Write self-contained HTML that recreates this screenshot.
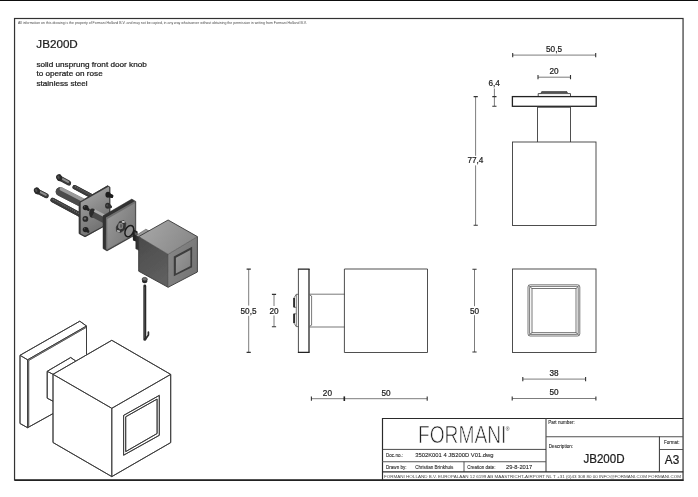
<!DOCTYPE html>
<html lang="en">
<head>
<meta charset="utf-8">
<title>JB200D - Formani</title>
<style>
  html, body { margin: 0; padding: 0; background: #fff; }
  body { width: 698px; height: 497px; overflow: hidden; position: relative; }
  svg { position: absolute; left: 0; top: 0; display: block; }
  text { font-family: "Liberation Sans", sans-serif; fill: #1a1a1a; }
  .ln { fill: none; stroke: #3a3a3a; stroke-width: 0.9; }
  .thin { fill: none; stroke: #555; stroke-width: 0.8; }
  .thk { fill: none; stroke: #222; stroke-width: 1.3; }
  .dim { fill: none; stroke: #5a5a5a; stroke-width: 0.8; }
  .tk { fill: none; stroke: #333; stroke-width: 1.1; }
  .dt { font-size: 8.2px; text-anchor: middle; fill: #222; }
  .tx text, text.dt { stroke: #222; stroke-width: 0.22px; }
  .tiny { font-size: 4.5px; fill: #2a2a2a; }
  .tx2 text { stroke: #333; stroke-width: 0.1px; }
</style>
</head>
<body>
<svg width="698" height="497" viewBox="0 0 698 497">
  <defs>
    <filter id="soft2" x="0" y="0" width="698" height="497" filterUnits="userSpaceOnUse"><feGaussianBlur stdDeviation="0.3"/></filter>
  </defs>
  <rect x="0" y="0" width="698" height="497" fill="#fff"/>
  <g id="all" filter="url(#soft2)">
  <!-- top bar -->
  <rect x="0" y="0" width="698" height="1" fill="#111"/>

  <!-- outer frame -->
  <g id="frame">
    <rect x="14.55" y="18.5" width="668.5" height="461.5" fill="none" stroke="#333" stroke-width="1.2"/>
    <line x1="14.6" y1="480.15" x2="683.6" y2="480.15" stroke="#222" stroke-width="1.5"/>
  </g>

  <!-- header text -->
  <g id="header" class="tx">
    <text x="18" y="24.4" font-size="3.45" style="stroke:none;fill:#4a4a4a" textLength="288.7" lengthAdjust="spacingAndGlyphs">All information on this drawing is the property of Formani Holland B.V. and may not be copied, in any way whatsoever without obtaining the permission in writing from Formani Holland B.V.</text>
    <text x="36.3" y="48" font-size="11.7px" textLength="41.5" lengthAdjust="spacingAndGlyphs">JB200D</text>
    <text x="36.4" y="67.4" font-size="7.4px" textLength="110.4" lengthAdjust="spacingAndGlyphs">solid unsprung front door knob</text>
    <text x="36.4" y="76.4" font-size="7.4px" textLength="66.3" lengthAdjust="spacingAndGlyphs">to operate on rose</text>
    <text x="36.4" y="85.6" font-size="7.4px" textLength="51.3" lengthAdjust="spacingAndGlyphs">stainless steel</text>
  </g>

  <!-- TOP VIEW (upper right) -->
  <g id="topview">
    <!-- dims -->
    <path class="dim" d="M512.7 55.1H595.7"/><path class="tk" d="M512.7 52.9v4.4M595.7 52.9v4.4"/>
    <text class="dt" x="554" y="51.9">50,5</text>
    <path class="dim" d="M538 77.2H570.5"/><path class="tk" d="M538 75.1v4.2M570.5 75.1v4.2"/>
    <text class="dt" x="554" y="74.3">20</text>
    <path class="dim" d="M494.4 88.5V106"/><path class="tk" d="M492.3 96.6h4.2M492.3 106.2h4.2"/>
    <text class="dt" x="494.2" y="85.9">6,4</text>
    <path class="dim" d="M475.6 96.5V155.8M475.6 165.4V225.2"/><path class="tk" d="M473.6 96.6h4.2M473.6 225.3h4.2"/>
    <text class="dt" x="475.4" y="162.9">77,4</text>
    <!-- bump -->
    <path class="ln" d="M538.2 96.3V93.6H541L541.6 91.8H567L567.6 93.6H570.5V96.3M541 93.6H567.6" stroke="#444"/>
    <path d="M541.6 92.2H567" stroke="#333" stroke-width="1.2" fill="none"/>
    <!-- rose -->
    <rect class="thk" x="512.4" y="96.6" width="83.8" height="9.7"/>
    <!-- neck -->
    <path class="ln" d="M537.5 106.2V142M570.5 106.2V142"/>
    <path class="thin" d="M537.5 107.5H570.5" stroke="#555" stroke-width="0.9"/>
    <!-- cube -->
    <rect class="ln" x="512.5" y="142" width="83.5" height="83.5"/>
  </g>

  <!-- SIDE VIEW (middle) -->
  <g id="sideview">
    <path class="dim" d="M248.7 269V305.6M248.7 315.8V352.4"/><path class="tk" d="M246.6 269.1h4.2M246.6 352.4h4.2"/>
    <text class="dt" x="248.5" y="313.6">50,5</text>
    <path class="dim" d="M274 294.4V306M274 315.4V326.7"/><path class="tk" d="M271.9 294.4h4.2M271.9 326.7h4.2"/>
    <text class="dt" x="274" y="313.6">20</text>
    <!-- bolts / back plate -->
    <path class="thin" d="M298.4 294.3H296.3L293.9 298V307.3H296.3M296.3 313.8H293.9V323L296.3 326.6H298.4M296.3 294.3V326.6" stroke="#555"/>
    <path d="M294.1 298V307.3M294.1 313.8V323" stroke="#1a1a1a" stroke-width="1.6" fill="none"/>
    <!-- rose -->
    <path class="ln" d="M298.4 269V352.4"/>
    <path class="thk" d="M309 269V352.4" stroke-width="1.5" stroke="#1a1a1a"/>
    <path class="thk" d="M297.9 269.1H309.6M297.9 352.3H309.6" stroke-width="1.4"/>
    <!-- neck -->
    <path class="thin" d="M309.4 294.2H344.5M309.4 327H344.5" stroke="#444" stroke-width="1.1"/>
    <path class="thin" d="M309.6 295L311.6 296V325.2L309.6 326.2" stroke="#777" stroke-width="0.9"/>
    <!-- cube -->
    <path class="ln" d="M344.4 269H427.5V352.5H344.4Z"/>
    <!-- bottom dims -->
    <path class="dim" d="M311.4 398.7H427.2"/><path class="tk" d="M311.4 396.6v4.2M427.2 396.6v4.2"/>
    <path d="M344.3 396.4v4.6" stroke="#222" stroke-width="1.6" fill="none"/>
    <text class="dt" x="327.4" y="395.8">20</text>
    <text class="dt" x="386" y="395.8">50</text>
  </g>

  <!-- FRONT VIEW (right) -->
  <g id="frontview">
    <rect class="ln" x="512.5" y="269" width="83.5" height="83.5" stroke="#444"/>
    <rect class="thin" x="528" y="284.8" width="51.8" height="51.2" rx="2.2" ry="2.2" stroke="#555" stroke-width="1"/>
    <rect class="thin" x="532" y="288.5" width="44" height="44.2" stroke="#555" stroke-width="0.9"/>
    <rect class="thin" x="529.6" y="286.4" width="48.6" height="48" rx="1.4" stroke="#c4c4c4" stroke-width="0.5"/>
    <path class="thin" d="M528.6 285.4L532 288.5M579.2 285.4L576 288.5M528.6 335.4L532 332.7M579.2 335.4L576 332.7" stroke="#666" stroke-width="0.7"/>
    <path class="dim" d="M474.5 269.3V306.2M474.5 315.2V352"/><path class="tk" d="M472.4 269.3h4.2M472.4 352h4.2"/>
    <text class="dt" x="474.6" y="313.7">50</text>
    <path class="dim" d="M522.8 379.1H585.6"/><path class="tk" d="M522.8 377v4.2M585.6 377v4.2"/>
    <text class="dt" x="554" y="375.6">38</text>
    <path class="dim" d="M512.2 398.5H595.9"/><path class="tk" d="M512.2 396.4v4.2M595.9 396.4v4.2"/>
    <text class="dt" x="554" y="395.4">50</text>
  </g>

  <!-- TITLE BLOCK -->
  <g id="titleblock">
    <path d="M382.5 479.7V418.5H683.2" fill="none" stroke="#2a2a2a" stroke-width="1.15"/>
    <path d="M546 418.6V471.9" fill="none" stroke="#444" stroke-width="1.1"/>
    <path d="M546 436.8H683" fill="none" stroke="#505050" stroke-width="1.1"/>
    <path d="M659.4 436.5V471.9" fill="none" stroke="#333" stroke-width="1"/>
    <path d="M659.4 449.5H683" fill="none" stroke="#444" stroke-width="0.9"/>
    <path d="M382 449.4H546" fill="none" stroke="#333" stroke-width="0.9"/>
    <path d="M382 461.7H546" fill="none" stroke="#555" stroke-width="1.1"/>
    <path d="M464 461.7V471.9" fill="none" stroke="#444" stroke-width="0.9"/>
    <path d="M382 471.9H683.2" fill="none" stroke="#2a2a2a" stroke-width="1.2"/>

    <text x="418" y="443.3" font-size="23.2px" textLength="88.4" lengthAdjust="spacingAndGlyphs" style="fill:#222;stroke:#fff;stroke-width:0.7px;">FORMANI</text>
    <text x="505.8" y="430.6" font-size="5px" style="fill:#333">®</text>

    <g class="tx2">
    <text class="tiny" x="386" y="456.6" textLength="17" lengthAdjust="spacingAndGlyphs">Doc.no.:</text>
    <text x="415.2" y="456.7" font-size="5.7px" textLength="78.4" lengthAdjust="spacingAndGlyphs">3502K001 4 JB200D V01.dwg</text>
    <text class="tiny" x="386" y="468.5" textLength="20.6" lengthAdjust="spacingAndGlyphs">Drawn by:</text>
    <text class="tiny" x="415.2" y="468.5" textLength="38.2" lengthAdjust="spacingAndGlyphs">Christian Brinkhuis</text>
    <text class="tiny" x="467.2" y="468.5" textLength="28.3" lengthAdjust="spacingAndGlyphs">Creation date:</text>
    <text x="506" y="468.7" font-size="5.8px" textLength="26.2" lengthAdjust="spacingAndGlyphs">29-8-2017</text>
    <text x="384" y="477.6" font-size="4.4px" style="fill:#444;stroke:none" textLength="297" lengthAdjust="spacingAndGlyphs">FORMANI HOLLAND B.V.  EUROPALAAN 12  6199 AB MAASTRICHT-AIRPORT NL  T +31 (0)43 308 80 00 INFO@FORMANI.COM FORMANI.COM</text>

    <text class="tiny" x="548.2" y="424" textLength="26.6" lengthAdjust="spacingAndGlyphs">Part number:</text>
    <text class="tiny" x="548.8" y="447.5" textLength="24.3" lengthAdjust="spacingAndGlyphs">Description:</text>
    <text class="tiny" x="664" y="444.4" textLength="15.6" lengthAdjust="spacingAndGlyphs">Format:</text>
    </g>
    <g class="tx">
    <text x="583.4" y="463.2" font-size="12.2px" textLength="41.2" lengthAdjust="spacingAndGlyphs">JB200D</text>
    <text x="664.8" y="463.6" font-size="12px" textLength="14.4" lengthAdjust="spacingAndGlyphs">A3</text>
    </g>
  </g>

  <!-- ISO LINE DRAWING -->
  <g id="isoline">
    <!-- rose plate -->
    <path class="ln" d="M20 355.3L79.8 321.2L86.5 326L27.6 359.8ZM20 355.3V423.5L27.6 427.7V359.8M27.6 427.7L53 413.6M86.5 326V354.6"/>
    <path class="thin" d="M28.6 360.5L86.3 327.3M28.7 360.6V427" stroke="#666" stroke-width="0.7"/>
    <!-- neck -->
    <path class="ln" d="M47.2 371.3L70.7 357.5L75.6 360.9M47.2 371.3L53 374.3M47.2 371.3V398.2L53 401.2"/>
    <!-- cube -->
    <path class="ln" d="M111.8 340.3L170.7 374.4L111.8 408.3L53 374.3ZM53 374.3V442.5L111.8 476.6L170.7 442.6V374.4M111.8 408.3V476.6"/>
    <!-- inset -->
    <path class="ln" d="M123.6 415.4L159.3 395.4V435.3L123.6 455.2Z" stroke-width="0.8"/>
    <path class="ln" d="M125.7 416.8L157.1 399.1V433.5L125.7 451.6Z" stroke-width="0.8"/>
  </g>

  <!-- EXPLODED SHADED VIEW -->
  <defs>
    <filter id="soft" x="-5%" y="-5%" width="110%" height="110%"><feGaussianBlur stdDeviation="0.35"/></filter>
    <linearGradient id="gTop" x1="0" y1="0.3" x2="1" y2="0.7"><stop offset="0" stop-color="#a6a6a6"/><stop offset="1" stop-color="#868686"/></linearGradient>
    <linearGradient id="gLeft" x1="0" y1="0" x2="0.4" y2="1"><stop offset="0" stop-color="#4a4a4a"/><stop offset="1" stop-color="#5e5e5e"/></linearGradient>
    <linearGradient id="gRight" x1="0" y1="0" x2="1" y2="0.6"><stop offset="0" stop-color="#888"/><stop offset="1" stop-color="#757575"/></linearGradient>
    <linearGradient id="gPlate" x1="0" y1="0" x2="1" y2="0.8"><stop offset="0" stop-color="#9c9c9c"/><stop offset="1" stop-color="#767676"/></linearGradient>
    <linearGradient id="gPlate2" x1="0.2" y1="0" x2="0.6" y2="1"><stop offset="0" stop-color="#a8a8a8"/><stop offset="0.45" stop-color="#8c8c8c"/><stop offset="1" stop-color="#6c6c6c"/></linearGradient>
    <linearGradient id="gInset" x1="0" y1="0" x2="1" y2="1"><stop offset="0" stop-color="#9a9a9a"/><stop offset="1" stop-color="#808080"/></linearGradient>
    <linearGradient id="gRod" x1="0" y1="0" x2="0" y2="1"><stop offset="0" stop-color="#b0b0b0"/><stop offset="1" stop-color="#555"/></linearGradient>
  </defs>
  <g id="exploded" filter="url(#soft)">
    <!-- screws -->
    <g id="screw1">
      <path d="M60.4 178.7L68.8 183.3" stroke="#333" stroke-width="4.7" stroke-linecap="round" fill="none"/>
      <path d="M62.4 179.5L67.6 182.3" stroke="#7e7e7e" stroke-width="2.1" stroke-linecap="butt" fill="none"/>
      <ellipse cx="59.4" cy="178.1" rx="2.6" ry="3.3" transform="rotate(-28 59.4 178.1)" fill="#262626"/>
      <ellipse cx="58.8" cy="177.6" rx="1" ry="1.6" transform="rotate(-28 58.8 177.6)" fill="#4c4c4c"/>
    </g>
    <g id="screw2">
      <path d="M38.1 191.6L46.4 195.9" stroke="#333" stroke-width="4.7" stroke-linecap="round" fill="none"/>
      <path d="M40.1 192.4L45.2 195" stroke="#7e7e7e" stroke-width="2.1" stroke-linecap="butt" fill="none"/>
      <ellipse cx="37.1" cy="191" rx="2.6" ry="3.3" transform="rotate(-28 37.1 191)" fill="#262626"/>
      <ellipse cx="36.5" cy="190.5" rx="1" ry="1.6" transform="rotate(-28 36.5 190.5)" fill="#4c4c4c"/>
    </g>
    <!-- threaded rods -->
    <path d="M74.6 187.2L92 196.4" stroke="#3a3a3a" stroke-width="4.3" stroke-linecap="round" fill="none"/>
    <path d="M74.8 186.6L92 195.6" stroke="#707070" stroke-width="1.2" stroke-dasharray="1.1 1.1" fill="none"/>
    <path d="M52.6 200L80 214.8" stroke="#3a3a3a" stroke-width="4.5" stroke-linecap="round" fill="none"/>
    <path d="M52.8 199.4L80 214" stroke="#707070" stroke-width="1.2" stroke-dasharray="1.1 1.1" fill="none"/>
    <!-- spindle -->
    <path d="M60 191.6L82.5 203.2" stroke="#4c4c4c" stroke-width="8.6" stroke-linecap="round" fill="none"/>
    <path d="M61.4 189L83.6 200.4" stroke="#9a9a9a" stroke-width="3.6" stroke-linecap="round" fill="none"/>
    <!-- mounting plate -->
    <path d="M79.2 203L80 201.8L107.6 185.8L109.9 187.2V223L85 236.8L79.2 233.6Z" fill="#383838" stroke="#383838" stroke-width="0.6" stroke-linejoin="round"/>
    <path d="M80.7 202.6L108.4 186.7L109.2 187.3V222.8L85 235.8L80.7 233.4Z" fill="url(#gPlate2)"/>
    <!-- plate bolts -->
    <ellipse cx="85.6" cy="207.6" rx="2.9" ry="2.7" fill="#222"/><path d="M85 207.4L88.4 209.6" stroke="#222" stroke-width="2.8" stroke-linecap="round"/><circle cx="84.6" cy="206.8" r="0.8" fill="#505050"/>
    <ellipse cx="85.4" cy="218.9" rx="2.9" ry="2.9" fill="#2a2a2a"/><circle cx="85" cy="218.6" r="1.2" fill="#6a6a6a"/>
    <ellipse cx="85.6" cy="229.6" rx="2.9" ry="2.7" fill="#222"/><path d="M85 229.4L88 231.4" stroke="#222" stroke-width="2.8" stroke-linecap="round"/><circle cx="84.6" cy="228.8" r="0.8" fill="#505050"/>
    <ellipse cx="108" cy="194.8" rx="2.6" ry="3" fill="#1e1e1e"/><path d="M108 195L111.6 196.2" stroke="#1e1e1e" stroke-width="3.4" stroke-linecap="round"/>
    <ellipse cx="107.8" cy="205.8" rx="2.7" ry="3" fill="#2c2c2c"/><circle cx="107.4" cy="205.4" r="1" fill="#666"/><path d="M108.6 206L110.6 206.8" stroke="#333" stroke-width="2.6" stroke-linecap="round"/>
    <!-- spindle through plate -->
    <ellipse cx="92.6" cy="211.6" rx="2.6" ry="4.4" fill="#3a3a3a"/>
    <path d="M93.8 211.4L105.4 217.2" stroke="#505050" stroke-width="8" fill="none"/>
    <path d="M94.8 209L106 214.6" stroke="#b2b2b2" stroke-width="2.8" fill="none"/>
    <!-- rose plate -->
    <path class="ln" d="M20 355.3L79.8 321.2L86.5 326L27.6 359.8ZM20 355.3V423.5L27.6 427.7V359.8M27.6 427.7L53 413.6M86.5 326V354.6"/>
    <path class="thin" d="M28.6 360.5L86.3 327.3M28.7 360.6V427" stroke="#666" stroke-width="0.7"/>
    <!-- neck -->
    <path class="ln" d="M47.2 371.3L70.7 357.5L75.6 360.9M47.2 371.3L53 374.3M47.2 371.3V398.2L53 401.2"/>
    <!-- cube -->
    <path class="ln" d="M111.8 340.3L170.7 374.4L111.8 408.3L53 374.3ZM53 374.3V442.5L111.8 476.6L170.7 442.6V374.4M111.8 408.3V476.6"/>
    <!-- inset -->
    <path class="ln" d="M123.6 415.4L159.3 395.4V435.3L123.6 455.2Z" stroke-width="0.8"/>
    <path class="ln" d="M125.7 416.8L157.1 399.1V433.5L125.7 451.6Z" stroke-width="0.8"/>
  </g>

  <!-- EXPLODED SHADED VIEW -->
  <defs>
    <filter id="soft" x="-5%" y="-5%" width="110%" height="110%"><feGaussianBlur stdDeviation="0.35"/></filter>
    <linearGradient id="gTop" x1="0" y1="0.3" x2="1" y2="0.7"><stop offset="0" stop-color="#a6a6a6"/><stop offset="1" stop-color="#868686"/></linearGradient>
    <linearGradient id="gLeft" x1="0" y1="0" x2="0.4" y2="1"><stop offset="0" stop-color="#4a4a4a"/><stop offset="1" stop-color="#5e5e5e"/></linearGradient>
    <linearGradient id="gRight" x1="0" y1="0" x2="1" y2="0.6"><stop offset="0" stop-color="#888"/><stop offset="1" stop-color="#757575"/></linearGradient>
    <linearGradient id="gPlate" x1="0" y1="0" x2="1" y2="0.8"><stop offset="0" stop-color="#9c9c9c"/><stop offset="1" stop-color="#767676"/></linearGradient>
    <linearGradient id="gPlate2" x1="0.2" y1="0" x2="0.6" y2="1"><stop offset="0" stop-color="#a8a8a8"/><stop offset="0.45" stop-color="#8c8c8c"/><stop offset="1" stop-color="#6c6c6c"/></linearGradient>
    <linearGradient id="gInset" x1="0" y1="0" x2="1" y2="1"><stop offset="0" stop-color="#9a9a9a"/><stop offset="1" stop-color="#808080"/></linearGradient>
    <linearGradient id="gRod" x1="0" y1="0" x2="0" y2="1"><stop offset="0" stop-color="#b0b0b0"/><stop offset="1" stop-color="#555"/></linearGradient>
  </defs>
  <g id="exploded" filter="url(#soft)">
    <!-- screws -->
    <g id="screw1">
      <path d="M60.5 178.2L68.4 182.6" stroke="#3a3a3a" stroke-width="4.6" stroke-linecap="round" fill="none"/>
      <path d="M62 178.6L68 181.9" stroke="#8c8c8c" stroke-width="2" stroke-linecap="round" fill="none"/>
      <ellipse cx="59.2" cy="177.6" rx="2.9" ry="3.5" transform="rotate(-25 59.2 177.6)" fill="#2a2a2a"/>
      <ellipse cx="58.5" cy="177.2" rx="1.1" ry="1.7" transform="rotate(-25 58.5 177.2)" fill="#505050"/>
    </g>
    <g id="screw2">
      <path d="M38.2 191.5L46.2 195.6" stroke="#3a3a3a" stroke-width="4.6" stroke-linecap="round" fill="none"/>
      <path d="M39.8 191.8L45.8 194.9" stroke="#8c8c8c" stroke-width="2" stroke-linecap="round" fill="none"/>
      <ellipse cx="36.9" cy="190.8" rx="2.9" ry="3.5" transform="rotate(-25 36.9 190.8)" fill="#2a2a2a"/>
      <ellipse cx="36.2" cy="190.4" rx="1.1" ry="1.7" transform="rotate(-25 36.2 190.4)" fill="#505050"/>
    </g>
    <!-- threaded rods -->
    <path d="M74.6 187.2L92 196.4" stroke="#3a3a3a" stroke-width="4.3" stroke-linecap="round" fill="none"/>
    <path d="M74.8 186.6L92 195.6" stroke="#707070" stroke-width="1.2" stroke-dasharray="1.1 1.1" fill="none"/>
    <path d="M52.6 200L80 214.8" stroke="#3a3a3a" stroke-width="4.5" stroke-linecap="round" fill="none"/>
    <path d="M52.8 199.4L80 214" stroke="#707070" stroke-width="1.2" stroke-dasharray="1.1 1.1" fill="none"/>
    <!-- spindle -->
    <path d="M60 191.6L82.5 203.2" stroke="#4c4c4c" stroke-width="8.6" stroke-linecap="round" fill="none"/>
    <path d="M61.4 189L83.6 200.4" stroke="#9a9a9a" stroke-width="3.6" stroke-linecap="round" fill="none"/>
    <!-- mounting plate -->
    <path d="M79.2 203L80 201.8L107.6 185.8L109.9 187.2V223L85 236.8L79.2 233.6Z" fill="#383838" stroke="#383838" stroke-width="0.6" stroke-linejoin="round"/>
    <path d="M80.7 202.6L108.4 186.7L109.2 187.3V222.8L85 235.8L80.7 233.4Z" fill="url(#gPlate2)"/>
    <!-- plate bolts -->
    <ellipse cx="85.6" cy="207.6" rx="2.9" ry="2.7" fill="#222"/><path d="M85 207.4L88.4 209.6" stroke="#222" stroke-width="2.8" stroke-linecap="round"/><circle cx="84.6" cy="206.8" r="0.8" fill="#505050"/>
    <ellipse cx="85.4" cy="218.9" rx="2.9" ry="2.9" fill="#2a2a2a"/><circle cx="85" cy="218.6" r="1.2" fill="#6a6a6a"/>
    <ellipse cx="85.6" cy="229.6" rx="2.9" ry="2.7" fill="#222"/><path d="M85 229.4L88 231.4" stroke="#222" stroke-width="2.8" stroke-linecap="round"/><circle cx="84.6" cy="228.8" r="0.8" fill="#505050"/>
    <ellipse cx="108" cy="194.8" rx="2.6" ry="3" fill="#1e1e1e"/><path d="M108 195L111.6 196.2" stroke="#1e1e1e" stroke-width="3.4" stroke-linecap="round"/>
    <ellipse cx="107.8" cy="205.8" rx="2.7" ry="3" fill="#2c2c2c"/><circle cx="107.4" cy="205.4" r="1" fill="#666"/><path d="M108.6 206L110.6 206.8" stroke="#333" stroke-width="2.6" stroke-linecap="round"/>
    <!-- spindle through plate -->
    <ellipse cx="92.4" cy="213.2" rx="3.2" ry="4.6" fill="#2a2a2a"/>
    <path d="M93.6 213.4L106 219.8" stroke="#4a4a4a" stroke-width="8.2" fill="none"/>
    <path d="M94.4 210.6L106.8 217" stroke="#ababab" stroke-width="2.8" fill="none"/>
    <!-- rose plate -->
    <path d="M103 215.8L131.8 199.1L135.8 201.4V234.7L107 250.9L103 248.6Z" fill="#303030" stroke="#303030" stroke-width="0.5" stroke-linejoin="round"/>
    <path d="M105.9 217.5L134.6 201.2L135.3 201.8V234.2L107.2 250L105.9 249.3Z" fill="#6e6e6e"/>
    <path d="M107.3 219L134.8 203.2V233.6L107.3 248.9Z" fill="url(#gPlate)"/>
    <!-- nut -->
    <path d="M116.2 227L119.6 221.5L124 220.6L125.9 223.4L125.2 229L120.7 232.6L116.5 231.3Z" fill="#303030" stroke="#303030" stroke-width="0.5" stroke-linejoin="round"/>
    <path d="M118.6 223.4L121.4 222.6L123.4 224.6L122.8 228.6L119.8 229.6L118 227.4Z" fill="#858585"/>
    <path d="M121.6 221.2L124.4 220.9L125 222.6L122.6 223Z" fill="#d4d4d4"/>
    <path d="M116.9 230.2L119.6 230.6L119.8 232L117.2 231.6Z" fill="#dadada"/>
    <path d="M120.2 224L122.4 224.6L122 227.8L120 227.4Z" fill="#5a5a5a"/>
    <!-- dark behind o-ring -->
    <path d="M132 228.6L137.6 231.4V242L133 240.6Z" fill="#242424"/>
    <path d="M134.8 232L137.2 233.2V235.8L134.8 234.6Z" fill="#5c5c5c"/>
    <!-- o-ring -->
    <ellipse cx="129.3" cy="231.1" rx="4" ry="5.9" transform="rotate(26 129.3 231.1)" fill="#8e8e8e" stroke="#1a1a1a" stroke-width="1.5"/>
    <!-- cube neck -->
    <path d="M135.8 235.6L145.9 229.2L150.4 231.6L140 238Z" fill="#9a9a9a" stroke="#444" stroke-width="0.5"/>
    <path d="M135.8 235.6L139.4 237.6V250.6L135.8 248.8Z" fill="#303030" stroke="#303030" stroke-width="0.5"/>
    <!-- cube -->
    <path d="M168.1 220L197.4 236.6L168.1 254.3L138.7 236.6Z" fill="url(#gTop)"/>
    <path d="M138.7 236.6L168.1 254.3V287.3L138.7 271.2Z" fill="url(#gLeft)"/>
    <path d="M168.1 254.3L197.4 236.6V272L168.1 287.3Z" fill="url(#gRight)"/>
    <path d="M168.1 220L197.4 236.6V272L168.1 287.3L138.7 271.2V236.6Z" fill="none" stroke="#383838" stroke-width="0.9" stroke-linejoin="round"/>
    <path d="M138.7 236.6L168.1 254.3L197.4 236.6M168.1 254.3V287.3" fill="none" stroke="#484848" stroke-width="0.6"/>
    <!-- inset -->
    <path d="M173.8 256.6L192.1 246.7V267.2L173.8 276.3Z" fill="#3c3c3c"/>
    <path d="M175.9 257.8L190.4 250V265.9L175.9 273.6Z" fill="url(#gInset)"/>
    <!-- set screw -->
    <path d="M142.1 279.2V281.6A2.6 1.7 0 0 0 147.3 281.6V279.2Z" fill="#2a2a2a"/>
    <ellipse cx="144.7" cy="279.2" rx="2.6" ry="1.8" fill="#707070" stroke="#2a2a2a" stroke-width="0.7"/>
    <!-- allen key -->
    <path d="M144.8 286V339.4" stroke="#2a2a2a" stroke-width="2.9" stroke-linecap="round" fill="none"/>
    <path d="M145.4 339.2L148.4 335V332.2" stroke="#2a2a2a" stroke-width="1.7" fill="none" stroke-linecap="round" stroke-linejoin="round"/>
    <path d="M144.3 287V338" stroke="#5a5a5a" stroke-width="0.7" fill="none"/>
  </g>
  </g>
</svg>
</body>
</html>
